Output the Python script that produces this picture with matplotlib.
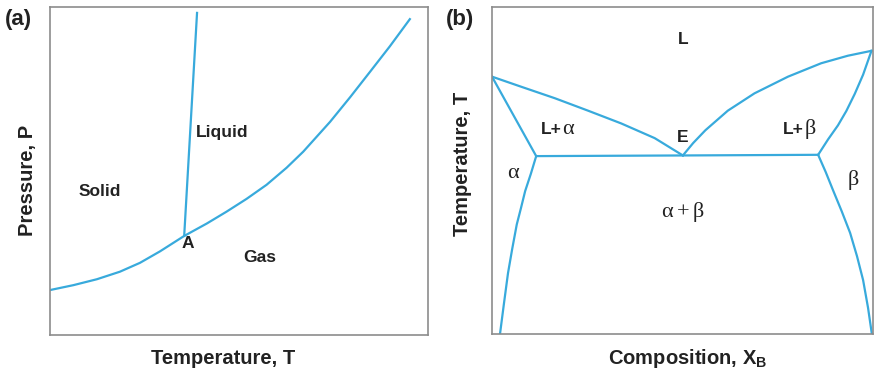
import matplotlib
matplotlib.use("Agg")
from matplotlib import pyplot as plt

# ---- panel (a): P-T diagram (axis units 0..100) ----
vap_T = [0, 6.2, 12.4, 18.5, 23.8, 29.1, 35.5, 41.5, 46.7, 52.0, 57.3,
         62.6, 67.0, 74.1, 79.4, 84.7, 89.9, 95.2]
vap_P = [13.7, 15.2, 17.0, 19.3, 22.0, 25.5, 30.2, 34.0, 37.6, 41.5, 45.8,
         51.0, 55.9, 65.0, 72.5, 80.3, 88.0, 96.3]
melt_T = [35.5, 38.9]
melt_P = [30.2, 98.2]

# ---- panel (b): eutectic T-X diagram (axis units 0..100) ----
liq_left_x = [0, 7.7, 16.5, 25.2, 33.9, 42.7, 50.1]
liq_left_y = [78.7, 75.6, 72.1, 68.3, 64.4, 59.9, 54.6]
liq_right_x = [50.1, 52.8, 56.0, 61.9, 68.9, 77.7, 86.4, 93.4, 99.6]
liq_right_y = [54.6, 58.4, 62.3, 68.3, 73.6, 78.7, 82.8, 85.1, 86.6]
sol_left_x = [0, 11.6]
sol_left_y = [78.7, 54.4]
sol_right_x = [85.6, 88.2, 90.8, 93.0, 95.2, 97.4, 99.6]
sol_right_y = [54.8, 59.5, 63.8, 68.2, 73.4, 79.3, 86.6]
eut_x = [11.6, 50.1, 85.6]
eut_y = [54.4, 54.6, 54.8]
solv_a_x = [11.6, 10.2, 8.7, 7.6, 6.5, 5.3, 4.2, 3.1, 2.1]
solv_a_y = [54.4, 49.0, 43.7, 38.5, 33.5, 26.0, 18.6, 9.0, 0]
solv_b_x = [85.6, 87.6, 89.5, 91.8, 94.0, 95.8, 97.4, 98.7, 99.7]
solv_b_y = [54.8, 49.5, 44.0, 37.5, 30.9, 23.8, 16.5, 8.0, 0]

plt.rcParams['font.family'] = ['Liberation Sans', 'DejaVu Sans']
plt.rcParams['mathtext.fontset'] = 'custom'
plt.rcParams['mathtext.it'] = 'Liberation Serif'
plt.rcParams['mathtext.rm'] = 'Liberation Serif'
plt.rcParams['mathtext.bf'] = 'Liberation Sans:bold'

W, H = 874, 373
fig = plt.figure(figsize=(W / 100, H / 100), dpi=100)

line_kw = dict(color='#38aadc', lw=1.6, solid_joinstyle='round')


def px_axes(l, t, r, b):
    return fig.add_axes([l / W, 1 - b / H, (r - l) / W, (b - t) / H])


def style(ax):
    ax.set_xlim(0, 100)
    ax.set_ylim(0, 100)
    ax.set_xticks([])
    ax.set_yticks([])
    for s in ax.spines.values():
        s.set_color('#8c8c8c')
        s.set_linewidth(1.2)


def ftext(x, y, s, ha='center', va='center', **kw):
    fig.text(x / W, 1 - y / H, s, ha=ha, va=va, **kw)


axa = px_axes(50, 7, 428, 335)
style(axa)
axa.plot(vap_T, vap_P, **line_kw)
axa.plot(melt_T, melt_P, **line_kw)

lab = dict(fontsize=12.5, fontweight='bold', color='#222222')
ftext(100, 191, 'Solid', **lab)
ftext(222, 133, 'Liquid', **lab)
ftext(188, 244, 'A', **lab)
ftext(260, 257, 'Gas', **lab)

axb = px_axes(492, 7, 873, 334)
style(axb)
for xs, ys in [(liq_left_x, liq_left_y), (liq_right_x, liq_right_y),
               (sol_left_x, sol_left_y), (sol_right_x, sol_right_y),
               (eut_x, eut_y), (solv_a_x, solv_a_y), (solv_b_x, solv_b_y)]:
    axb.plot(xs, ys, **line_kw)

greek = dict(fontsize=16, color='#222222')
ftext(683, 39, 'L', **lab)
ftext(683, 137, 'E', **lab)
# "L+" in bold sans, greek letter in serif
ftext(562, 134, 'L+', ha='right', va='baseline', **lab)
ftext(562, 134, r'$\alpha$', ha='left', va='baseline', **greek)
ftext(804, 134, 'L+', ha='right', va='baseline', **lab)
ftext(804, 134, r'$\beta$', ha='left', va='baseline', **greek)
ftext(514, 173, r'$\alpha$', **greek)
ftext(853, 180, r'$\beta$', **greek)
ftext(683, 212, r'$\alpha + \beta$', **greek)

ax_lab = dict(fontsize=14.5, fontweight='bold', color='#222222')
ftext(18, 20, '(a)', fontsize=16, fontweight='bold', color='#222222')
ftext(460, 20, '(b)', fontsize=16, fontweight='bold', color='#222222')
ftext(28, 180, 'Pressure, P', rotation=90, **ax_lab)
ftext(223, 358, 'Temperature, T', **ax_lab)
ftext(463, 164, 'Temperature, T', rotation=90, **ax_lab)
ftext(688, 358, r'Composition, X$_\mathbf{B}$', **ax_lab)

plt.savefig('out.png', dpi=100)
plt.close()
